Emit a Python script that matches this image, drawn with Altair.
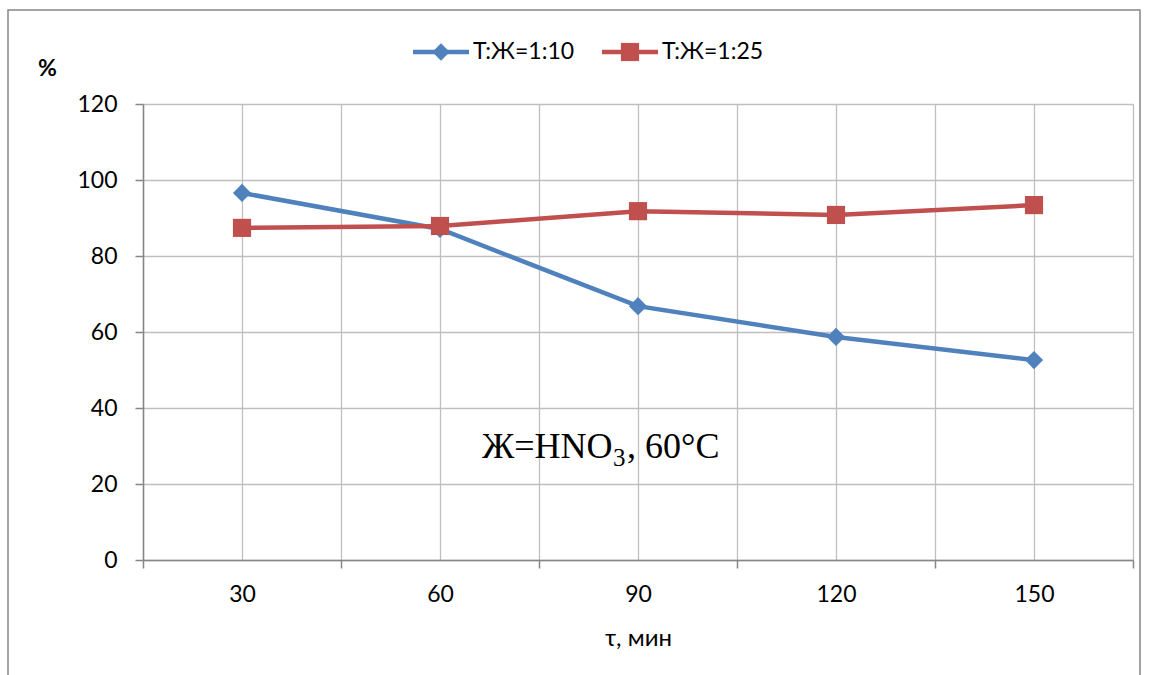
import altair as alt
import pandas as pd

times = [30, 60, 90, 120, 150]
series_names = ["Т:Ж=1:10", "Т:Ж=1:25"]
s1 = [96.6, 87.1, 66.8, 58.7, 52.6]
s2 = [87.4, 87.9, 91.8, 90.8, 93.4]
colors = ["#4f81bd", "#c0504d"]
shapes = ["diamond", "square"]
y_ticks = [0, 20, 40, 60, 80, 100, 120]
x_grid = [15, 30, 45, 60, 75, 90, 105, 120, 135, 150, 165]

FONT = "Lato"
FS = 23
rows = []
for t, a, b in zip(times, s1, s2):
    rows.append({"t": t, "v": a, "s": series_names[0]})
    rows.append({"t": t, "v": b, "s": series_names[1]})
df = pd.DataFrame(rows)

W, H = 990, 456

xenc = alt.X("t:Q", scale=alt.Scale(domain=[15, 165], nice=False, zero=False),
             axis=alt.Axis(values=x_grid, grid=True, gridColor="#bfbfbf", gridWidth=1.3,
                           domainColor="#868686", domainWidth=1.5,
                           tickColor="#868686", tickWidth=1.5, tickSize=8,
                           tickOpacity={"condition": {"test": "(datum.value - 15) % 30 == 0", "value": 1}, "value": 0},
                           labelExpr="datum.value % 30 == 0 ? datum.label : ''",
                           labelFont=FONT, labelFontSize=FS, labelColor="#000000", labelPadding=15,
                           title="τ, мин", titleFont=FONT, titleFontSize=24, titleFontWeight="normal",
                           titleColor="#000000", titlePadding=20))
yenc = alt.Y("v:Q", scale=alt.Scale(domain=[0, 120], nice=False),
             axis=alt.Axis(values=y_ticks, grid=True, gridColor="#bfbfbf", gridWidth=1.3,
                           domainColor="#868686", domainWidth=1.5,
                           tickColor="#868686", tickWidth=1.5, tickSize=8,
                           labelFont=FONT, labelFontSize=FS, labelColor="#000000", labelPadding=18,
                           title="%", titleFont=FONT, titleFontSize=FS, titleFontWeight="bold",
                           titleColor="#000000", titleAngle=0, titleX=-96, titleY=-36,
                           titleAlign="center", titleBaseline="middle"))
cenc = alt.Color("s:N", scale=alt.Scale(domain=series_names, range=colors), legend=None)
senc = alt.Shape("s:N", scale=alt.Scale(domain=series_names, range=shapes), legend=None)

base = alt.Chart(df)
lines = base.mark_line(strokeWidth=4.5).encode(x=xenc, y=yenc, color=cenc, detail="s:N")
points = base.mark_point(filled=True, opacity=1, size=330).encode(
    x=alt.X("t:Q"), y=alt.Y("v:Q"), color=cenc, shape=senc)

layers = [lines, points]

# legend (manual)
leg_x = [270, 459]  # line start relative to plot left
leg_y = -52
for i, name in enumerate(series_names):
    ldf = pd.DataFrame({"s": [name]})
    lc = alt.Chart(ldf)
    layers.append(lc.mark_rule(strokeWidth=4.5, color=colors[i]).encode(
        x=alt.value(leg_x[i]), x2=alt.value(leg_x[i] + 56), y=alt.value(leg_y)))
    layers.append(lc.mark_point(filled=True, opacity=1, size=300 if i == 0 else 330,
                                shape=shapes[i], color=colors[i]).encode(
        x=alt.value(leg_x[i] + 28), y=alt.value(leg_y)))
    layers.append(lc.mark_text(align="left", baseline="middle", font=FONT, fontSize=FS,
                               color="#000000").encode(
        x=alt.value(leg_x[i] + 60), y=alt.value(leg_y), text="s:N"))

# annotation
ann = pd.DataFrame({"a": ["Ж=HNO"], "b": ["3"], "c": [", 60°C"]})
ac = alt.Chart(ann)
layers.append(ac.mark_text(align="left", baseline="alphabetic", font="Liberation Serif",
                           fontSize=36, color="#000000").encode(
    x=alt.value(339), y=alt.value(354), text="a:N"))
layers.append(ac.mark_text(align="left", baseline="alphabetic", font="Liberation Serif",
                           fontSize=25, color="#000000").encode(
    x=alt.value(470), y=alt.value(362), text="b:N"))
layers.append(ac.mark_text(align="left", baseline="alphabetic", font="Liberation Serif",
                           fontSize=36, color="#000000").encode(
    x=alt.value(484), y=alt.value(354), text="c:N"))

# outer frame
layers.append(ac.mark_rect(fill=None, stroke="#868686", strokeWidth=1.5).encode(
    x=alt.value(-135), x2=alt.value(997), y=alt.value(-94), y2=alt.value(590)))

chart = alt.layer(*layers).properties(
    width=W, height=H,
    autosize=alt.AutoSizeParams(type="none"),
    padding={"left": 143, "top": 104, "right": 16, "bottom": 115},
).configure_view(stroke=None).configure(background="white")

chart.save("out.html", embed_options={"renderer": "svg", "actions": False})
